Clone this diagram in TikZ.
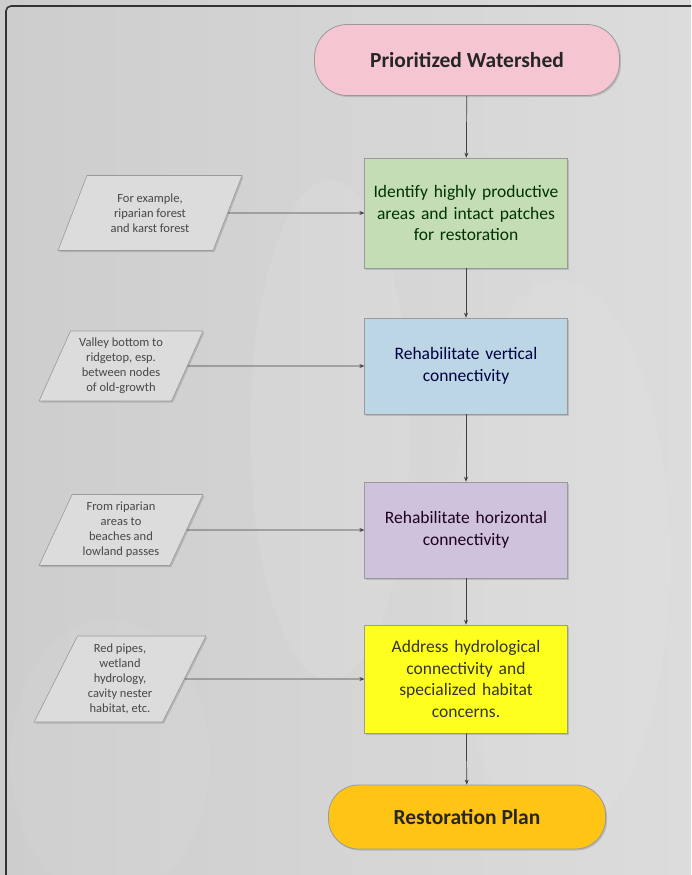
\documentclass[tikz,border=0pt]{standalone}
\usepackage{fontspec}
\setmainfont{Carlito}
\usetikzlibrary{shapes.geometric,arrows.meta,shadows}
\definecolor{bgl}{HTML}{CDCDCD}
\definecolor{bgm}{HTML}{F3F3F3}
\definecolor{bgr}{HTML}{DCDCDC}
\definecolor{pinkc}{HTML}{F5C5D2}
\definecolor{greenc}{HTML}{C4DDB4}
\definecolor{bluec}{HTML}{BDD6E6}
\definecolor{purplec}{HTML}{CEC2DD}
\definecolor{yellowc}{HTML}{FFFF1E}
\definecolor{orangec}{HTML}{FFC414}
\definecolor{parac}{HTML}{DCDCDC}
\definecolor{edgec}{HTML}{9A9A9A}
\tikzset{
  shadowed/.style={drop shadow={opacity=0.35,shadow xshift=1.5pt,shadow yshift=-1.5pt}},
  pill/.style={draw=edgec, line width=0.8pt, rounded corners=33pt, shadowed,
    font=\fontsize{21.5}{25}\selectfont\bfseries, text=black!85},
  stepbox/.style={draw=edgec, line width=0.6pt, shadowed, minimum width=201pt,
    align=center, text width=196pt, font=\fontsize{17.5}{21.7}\selectfont},
  para/.style={trapezium, trapezium left angle=65, trapezium right angle=115,
    trapezium stretches=true, draw=edgec, line width=0.6pt, fill=parac, shadowed,
    align=center, font=\fontsize{12.5}{15}\selectfont, text=black!72, inner sep=0pt},
  conn/.style={draw=black!75, line width=0.7pt, -{Stealth[length=5pt,width=4pt]}}
}
\begin{document}
\begin{tikzpicture}[x=1pt,y=-1pt]
\useasboundingbox (0,0) rectangle (691,875);
\shade[left color=bgl, middle color=bgm, right color=bgr] (0,0) rectangle (691,875);
\fill[white, opacity=0.08] (330,430) ellipse (80 and 250);
\fill[white, opacity=0.07] (560,560) ellipse (110 and 280);
\fill[white, opacity=0.06] (110,760) ellipse (100 and 140);
\draw[line width=1.6pt, black!80, rounded corners=5pt] (6,875) -- (6,6) -- (691,6);

\node[pill, fill=pinkc, minimum width=305pt, minimum height=71pt] (pw) at (467,60) {Prioritized Watershed};
\node[stepbox, fill=greenc, minimum height=110pt, text=green!20!black] (g) at (466,213)
  {Identify highly productive\\areas and intact patches\\for restoration};
\node[stepbox, fill=bluec, minimum height=96pt, text=blue!25!black] (b) at (466,366)
  {Rehabilitate vertical\\connectivity};
\node[stepbox, fill=purplec, minimum height=96pt, text=violet!25!black] (p) at (466,530)
  {Rehabilitate horizontal\\connectivity};
\node[stepbox, fill=yellowc, minimum height=108pt, text=black!80] (y) at (466,679)
  {Address hydrological\\connectivity and\\specialized habitat\\concerns.};
\node[pill, fill=orangec, minimum width=277pt, minimum height=64pt, rounded corners=30pt] (rp) at (467,817) {Restoration Plan};

\node[para, minimum width=184pt, minimum height=75pt] (p1) at (150,213)
  {For example,\\riparian forest\\and karst forest};
\node[para, minimum width=164pt, minimum height=70pt] (p2) at (121,366)
  {Valley bottom to\\ridgetop, esp.\\between nodes\\of old-growth};
\node[para, minimum width=164pt, minimum height=71pt] (p3) at (121,530)
  {From riparian\\areas to\\beaches and\\lowland passes};
\node[para, minimum width=172pt, minimum height=86pt] (p4) at (120,679)
  {Red pipes,\\wetland\\hydrology,\\cavity nester\\habitat, etc.};

\draw[conn] (pw) -- (g);
\draw[conn] (g) -- (b);
\draw[conn] (b) -- (p);
\draw[conn] (p) -- (y);
\draw[conn] (y) -- (rp);
\draw[conn] (p1.east) -- (g.west);
\draw[conn] (p2.east) -- (b.west);
\draw[conn] (p3.east) -- (p.west);
\draw[conn] (p4.east) -- (y.west);
\end{tikzpicture}
\end{document}
